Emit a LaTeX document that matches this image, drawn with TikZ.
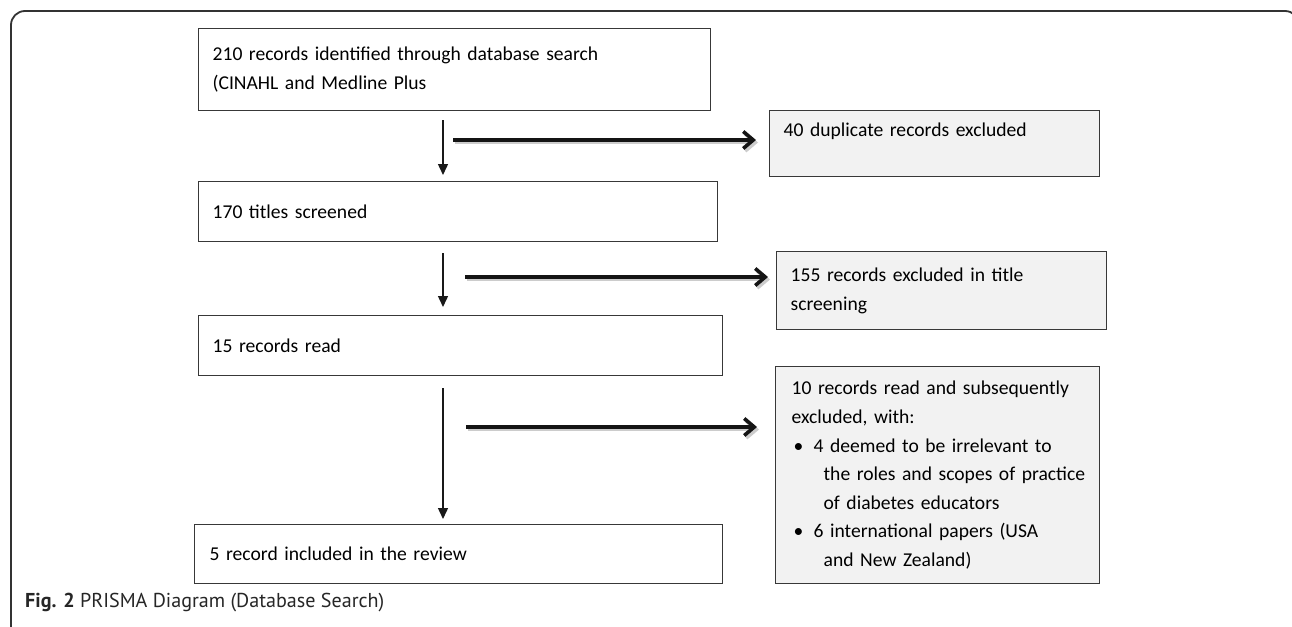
\documentclass[tikz,border=0pt]{standalone}
\usepackage{fontspec}
\setmainfont{Carlito}
\newfontfamily\capfont{PT Sans}
\usetikzlibrary{arrows.meta,calc}
\begin{document}
\begin{tikzpicture}[x=1pt,y=-1pt,
  box/.style={draw=black!78, line width=1.3pt, fill=white, anchor=north west,
    inner xsep=14pt, inner ysep=0pt, align=left, font=\fontsize{19.6}{28.6}\selectfont},
  gbox/.style={box, fill=black!5},
  thinarrow/.style={line width=1.4pt, draw=black!90, -{Triangle[length=11pt,width=10pt]}},
  thickarrow/.style={line width=3.6pt, draw=black!92, -{Straight Barb[length=10pt,width=17pt]}},
  shadowline/.style={line width=3.6pt, draw=black!20, -{Straight Barb[length=10pt,width=17pt]}}]
\useasboundingbox (0,0) rectangle (1292,626);
\clip (0,0) rectangle (1292,626);
\fill[white] (0,0) rectangle (1292,626);
% frame
\draw[line width=1.8pt, black!80, rounded corners=14pt] (11,700) -- (11,11) -- (1299,11) -- (1299,700);
% main boxes
\node[box, minimum width=512pt, minimum height=82pt, text width=484pt] (b1) at (198,28)
  {210 records identified through database search\\(CINAHL and Medline Plus};
\node[box, minimum width=519pt, minimum height=60pt, text width=491pt] (b2) at (198,181)
  {170 titles screened};
\node[box, minimum width=524pt, minimum height=60pt, text width=496pt] (b3) at (198,315)
  {15 records read};
\node[box, inner xsep=15pt, minimum width=528pt, minimum height=59pt, text width=498pt] (b4) at (194,524)
  {5 record included in the review};
% exclusion boxes
\node[gbox, minimum width=330pt, minimum height=66pt, text width=302pt] (r1) at (769,110)
  {40 duplicate records excluded\\\mbox{}};
\node[gbox, minimum width=330pt, minimum height=78pt, text width=302pt] (r2) at (776,251)
  {155 records excluded in title\\screening};
\node[gbox, inner xsep=16pt, minimum width=324pt, minimum height=217pt, text width=292pt] (r3) at (775,366)
  {\mbox{10 records read and subsequently}\\
   \mbox{excluded, with:}\\
   \mbox{\makebox[22pt][l]{\hspace{2pt}•}4 deemed to be irrelevant to}\\
   \mbox{\hspace*{32pt}the roles and scopes of practice}\\
   \mbox{\hspace*{32pt}of diabetes educators}\\
   \mbox{\makebox[22pt][l]{\hspace{2pt}•}6 international papers (USA}\\
   \mbox{\hspace*{32pt}and New Zealand)}};
% vertical arrows
\coordinate (ax) at (443,0);
\draw[thinarrow, shorten >=6pt] ([yshift=-9pt]b1.south -| ax) -- (b2.north -| ax);
\draw[thinarrow, shorten >=8pt] ([yshift=-11pt]b2.south -| ax) -- (b3.north -| ax);
\draw[thinarrow, shorten >=5pt] ([yshift=-12pt]b3.south -| ax) -- (b4.north -| ax);
% horizontal arrows
\coordinate (h1) at (453,140);
\coordinate (h2) at (465,277);
\coordinate (h3) at (466,427);
\foreach \h/\r/\g in {h1/r1/13, h2/r2/8, h3/r3/18}{
  \draw[shadowline, transform canvas={xshift=2pt,yshift=-2.5pt}] (\h) -- ([xshift=-\g pt]\h -| \r.west);
  \draw[thickarrow] (\h) -- ([xshift=-\g pt]\h -| \r.west);
}
% caption
\node[anchor=base west, inner sep=0pt, font=\capfont\fontsize{20.1}{24}\selectfont, text=black!85] (cap) at (25,607)
  {\textbf{Fig. 2} PRISMA Diagram (Database Search)};
\end{tikzpicture}
\end{document}
